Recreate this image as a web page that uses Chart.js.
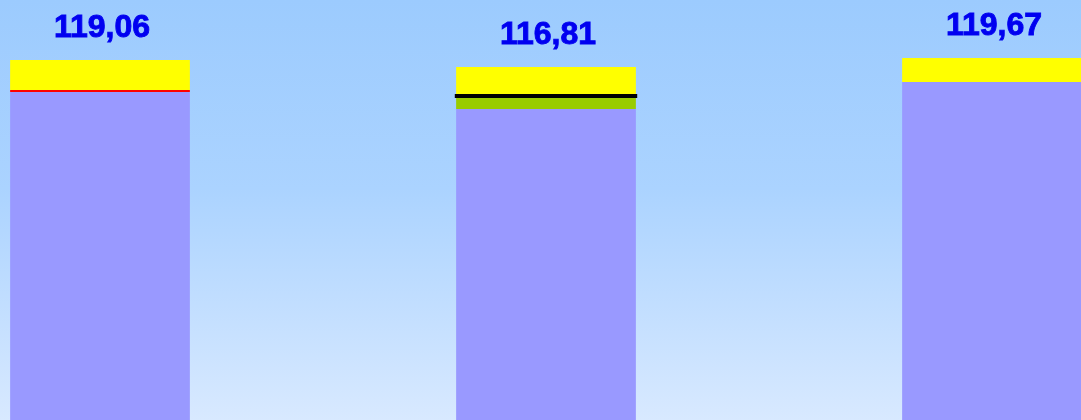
<!DOCTYPE html>
<html>
<head>
<meta charset="utf-8">
<script src="https://cdn.jsdelivr.net/npm/chart.js@4/dist/chart.umd.min.js"></script>
<style>
  html, body { margin: 0; padding: 0; }
  #wrap {
    position: relative; width: 1081px; height: 420px; overflow: hidden;
    background: linear-gradient(to bottom, #9ccbfe 0%, #abd3ff 45%, #d8e9ff 100%);
  }
  #box { position: absolute; left: -123.5px; top: 0; width: 1338px; height: 420px; }
</style>
</head>
<body>
<div id="wrap"><div id="box"><canvas id="chart"></canvas></div></div>
<script>
// dados
const categories = ['A', 'B', 'C'];
const totalLabels = ['119,06', '116,81', '119,67'];
const baseValues = [108.78, 103.31, 111.99];
const greenValues = [0, 3.54, 0];
const redValues = [0.64, 0, 0];
const blackValues = [0, 1.29, 0];
const yellowValues = [9.64, 8.68, 7.68];

const yMin = 3.35;
const yMax = 138.35;

// rótulos acima das barras
const topLabels = {
    id: 'topLabels',
    afterDatasetsDraw(chart) {
        const ctx = chart.ctx;
        const meta = chart.getDatasetMeta(chart.data.datasets.length - 1);
        ctx.save();
        ctx.font = 'bold 32px "Liberation Sans", Arial, sans-serif';
        ctx.fillStyle = '#0000f0';
        ctx.strokeStyle = '#0000f0';
        ctx.lineWidth = 0.9;
        ctx.textAlign = 'center';
        ctx.textBaseline = 'alphabetic';
        meta.data.forEach((bar, i) => {
            ctx.fillText(totalLabels[i], bar.x + 2, bar.y - 23);
            ctx.strokeText(totalLabels[i], bar.x + 2, bar.y - 23);
        });
        ctx.restore();
    }
};

const ctx = document.getElementById('chart').getContext('2d');
const chart = new Chart(ctx, {
    type: 'bar',
    data: {
        labels: categories,
        datasets: [
            { data: baseValues, backgroundColor: '#9999ff' },
            { data: greenValues, backgroundColor: '#99cc00' },
            { data: redValues, backgroundColor: '#ff0000' },
            { data: blackValues, backgroundColor: '#000000', barPercentage: 0.409 },
            { data: yellowValues, backgroundColor: '#ffff00' }
        ]
    },
    options: {
        responsive: true,
        maintainAspectRatio: false,
        animation: false,
        layout: { padding: 0 },
        datasets: { bar: { barPercentage: 0.403, categoryPercentage: 1, borderWidth: 0 } },
        plugins: { legend: { display: false }, tooltip: { enabled: false } },
        scales: {
            x: { stacked: true, display: false, offset: true },
            y: { stacked: true, display: false, min: yMin, max: yMax }
        }
    },
    plugins: [topLabels]
});
</script>
</body>
</html>
